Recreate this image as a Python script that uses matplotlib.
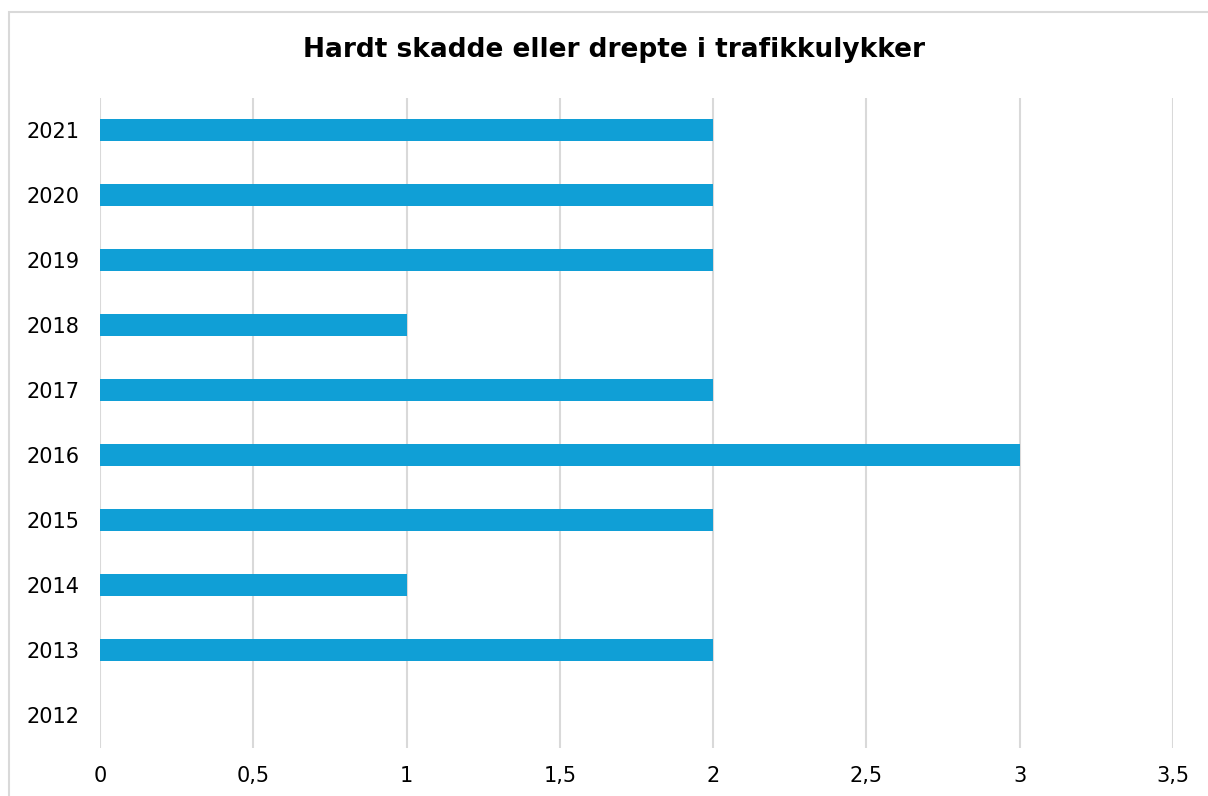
import matplotlib
matplotlib.use("Agg")
import matplotlib.pyplot as plt
from matplotlib.patches import Rectangle
from matplotlib.ticker import FuncFormatter

years = ["2012", "2013", "2014", "2015", "2016", "2017", "2018", "2019", "2020", "2021"]
values = [0, 2, 1, 2, 3, 2, 1, 2, 2, 2]
title = "Hardt skadde eller drepte i trafikkulykker"
xticks = [0, 0.5, 1, 1.5, 2, 2.5, 3, 3.5]

W, H = 1208, 796
fig = plt.figure(figsize=(W / 100, H / 100), dpi=100)
ax = fig.add_axes([100 / W, 1 - 747.5 / H, (1173 - 100) / W, (747.5 - 97.5) / H])

ax.barh(range(len(years)), values, height=0.34, color="#109FD6", zorder=3)
ax.set_ylim(-0.5, len(years) - 0.5)
ax.set_xlim(0, 3.5)
ax.set_yticks(range(len(years)))
ax.set_yticklabels(years)
ax.set_xticks(xticks)
ax.xaxis.set_major_formatter(FuncFormatter(lambda v, p: (f"{v:g}").replace(".", ",")))
ax.grid(axis="x", color="#d9d9d9", linewidth=1.5, zorder=0)
ax.grid(axis="y", visible=False)
for s in ax.spines.values():
    s.set_visible(False)
ax.tick_params(axis="both", length=0, labelsize=15, colors="black")
ax.tick_params(axis="y", pad=15)
ax.tick_params(axis="x", pad=13)

fig.text(614 / W, 1 - 50 / H, title, ha="center", va="center", fontsize=19, fontweight="bold")

fig.patches.append(Rectangle((8.5 / W, -0.1), 1.2, 1 + 0.1 - 12.5 / H, transform=fig.transFigure,
                             fill=False, edgecolor="#d9d9d9", linewidth=1.5))

fig.savefig("out.png", dpi=100)
